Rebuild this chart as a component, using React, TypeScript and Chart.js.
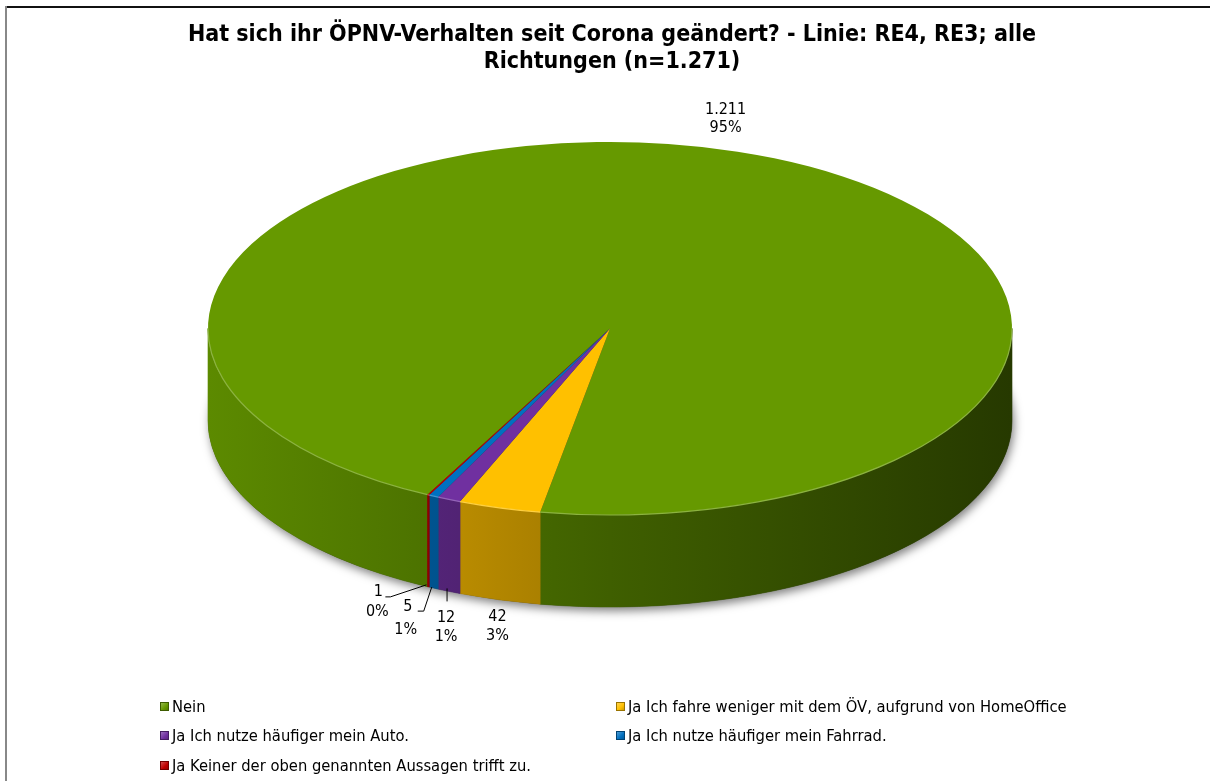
import React, { useEffect, useRef } from "react";
import { Chart, registerables } from "chart.js";

Chart.register(...registerables);

const categories = [
  "Nein",
  "Ja Ich fahre weniger mit dem ÖV, aufgrund von HomeOffice",
  "Ja Ich nutze häufiger mein Auto.",
  "Ja Ich nutze häufiger mein Fahrrad.",
  "Ja Keiner der oben genannten Aussagen trifft zu.",
];
const counts = [1211, 42, 12, 5, 1];
const countLabels = ["1.211", "42", "12", "5", "1"];
const percentLabels = ["95%", "3%", "1%", "1%", "0%"];
const sliceColors = ["#669900", "#FFC000", "#7030A0", "#0070C0", "#C00000"];
const titleLines = [
  "Hat sich ihr ÖPNV-Verhalten seit Corona geändert? - Linie: RE4, RE3; alle",
  "Richtungen (n=1.271)",
];

const FONT = '"DejaVu Sans Condensed", "Liberation Sans Narrow", "DejaVu Sans", sans-serif';

// 3D ellipse geometry (screen pixels)
const CX = 610;
const CY = 328.5;
const RX = 402;
const RY = 186.5;
const DEPTH = 92;
const ROTATION = 207;

type Pt = [number, number];
const labelLayout: { anchor: "top" | "bottom"; text: Pt[]; leader: Pt[] }[] = [
  { anchor: "top", text: [[-12, -42], [-12, -24]], leader: [] },
  { anchor: "bottom", text: [[-2, 17], [-2, 36]], leader: [] },
  { anchor: "bottom", text: [[-3, 26], [-3, 45]], leader: [[-2, -3], [-2, 10]] },
  { anchor: "bottom", text: [[-26, 19], [-28, 42]], leader: [[-2, -1], [-10, 23], [-16, 23]] },
  { anchor: "bottom", text: [[-50, 5], [-51, 25]], leader: [[-2, -2], [-38, 10], [-43, 10]] },
];

function rgb(hex: string): number[] {
  const h = hex.replace("#", "");
  return [0, 2, 4].map((i) => parseInt(h.slice(i, i + 2), 16));
}
function shade(hex: string, f: number): string {
  const c = rgb(hex).map((v) => Math.max(0, Math.min(255, Math.round(v * f))));
  return `rgb(${c[0]},${c[1]},${c[2]})`;
}
function lighten(hex: string, f: number): string {
  const c = rgb(hex).map((v) => Math.round(v + (255 - v) * f));
  return `rgb(${c[0]},${c[1]},${c[2]})`;
}

function frontPieces(a0: number, a1: number): Pt[] {
  const out: Pt[] = [];
  for (let k = -1; k <= 2; k++) {
    const lo = Math.max(a0, k * 2 * Math.PI);
    const hi = Math.min(a1, k * 2 * Math.PI + Math.PI);
    if (hi > lo) out.push([lo, hi]);
  }
  return out;
}

const pie3d = {
  id: "pie3d",
  beforeDatasetsDraw(chart: any) {
    const ctx: CanvasRenderingContext2D = chart.ctx;
    const arcs = chart.getDatasetMeta(0).data;
    if (!arcs.length) return;
    const p = arcs[0].getProps(["x", "y", "outerRadius"], true);

    // shadow under the pie
    ctx.save();
    ctx.shadowColor = "rgba(0,0,0,0.5)";
    ctx.shadowBlur = 10;
    ctx.shadowOffsetX = 2;
    ctx.shadowOffsetY = 4;
    ctx.fillStyle = "#333";
    ctx.beginPath();
    ctx.ellipse(CX, CY + DEPTH, RX, RY, 0, 0, Math.PI * 2);
    ctx.fill();
    ctx.restore();

    // side walls
    ctx.save();
    arcs.forEach((arc: any, i: number) => {
      const { startAngle, endAngle } = arc.getProps(["startAngle", "endAngle"], true);
      const col = sliceColors[i];
      const g = ctx.createLinearGradient(CX - RX, 0, CX + RX, 0);
      g.addColorStop(0, shade(col, 0.9));
      g.addColorStop(0.5, shade(col, 0.62));
      g.addColorStop(1, shade(col, 0.37));
      frontPieces(startAngle, endAngle).forEach(([t0, t1]) => {
        ctx.beginPath();
        ctx.ellipse(CX, CY, RX, RY, 0, t0, t1, false);
        ctx.ellipse(CX, CY + DEPTH, RX, RY, 0, t1, t0, true);
        ctx.closePath();
        ctx.fillStyle = g;
        ctx.fill();
        ctx.strokeStyle = g;
        ctx.lineWidth = 0.6;
        ctx.stroke();
      });
    });
    ctx.restore();

    // tilt the top surface
    ctx.save();
    ctx.translate(CX, CY);
    ctx.scale(RX / p.outerRadius, RY / p.outerRadius);
    ctx.translate(-p.x, -p.y);
  },
  afterDatasetsDraw(chart: any) {
    const ctx: CanvasRenderingContext2D = chart.ctx;
    ctx.restore();
    const arcs = chart.getDatasetMeta(0).data;
    if (!arcs.length) return;

    // rim highlight
    ctx.save();
    arcs.forEach((arc: any, i: number) => {
      const { startAngle, endAngle } = arc.getProps(["startAngle", "endAngle"], true);
      frontPieces(startAngle, endAngle).forEach(([t0, t1]) => {
        ctx.beginPath();
        ctx.ellipse(CX, CY, RX, RY, 0, t0, t1, false);
        ctx.strokeStyle = lighten(sliceColors[i], 0.25);
        ctx.lineWidth = 1.2;
        ctx.stroke();
      });
    });
    ctx.restore();

    // data labels
    ctx.save();
    ctx.font = `16px ${FONT}`;
    ctx.fillStyle = "#000";
    ctx.textAlign = "center";
    ctx.textBaseline = "middle";
    arcs.forEach((arc: any, i: number) => {
      const { startAngle, endAngle } = arc.getProps(["startAngle", "endAngle"], true);
      const m = (startAngle + endAngle) / 2;
      const L = labelLayout[i];
      const ax = CX + RX * Math.cos(m);
      const ay = (L.anchor === "top" ? CY : CY + DEPTH) + RY * Math.sin(m);
      if (L.leader.length) {
        ctx.beginPath();
        ctx.moveTo(ax + L.leader[0][0], ay + L.leader[0][1]);
        for (let k = 1; k < L.leader.length; k++) ctx.lineTo(ax + L.leader[k][0], ay + L.leader[k][1]);
        ctx.strokeStyle = "#000";
        ctx.lineWidth = 1;
        ctx.stroke();
      }
      ctx.fillText(countLabels[i], ax + L.text[0][0], ay + L.text[0][1]);
      ctx.fillText(percentLabels[i], ax + L.text[1][0], ay + L.text[1][1]);
    });
    ctx.restore();
  },
};

export default function App() {
  const ref = useRef<HTMLCanvasElement>(null);
  useEffect(() => {
    document.body.style.margin = "0";
    const chart = new Chart(ref.current as HTMLCanvasElement, {
      type: "pie",
      data: {
        labels: categories,
        datasets: [{ data: counts, backgroundColor: sliceColors, borderWidth: 0 }],
      },
      options: {
        responsive: false,
        animation: false,
        rotation: ROTATION,
        events: [],
        layout: { padding: { left: 14 } },
        plugins: {
          legend: { display: false },
          tooltip: { enabled: false },
          title: {
            display: true,
            text: titleLines,
            color: "#000",
            font: { family: FONT, size: 23, weight: "bold", lineHeight: 1.2 },
            padding: { top: 21, bottom: 10 },
          },
        },
      } as any,
      plugins: [pie3d as any],
    });
    return () => chart.destroy();
  }, []);

  return (
    <div style={{ position: "relative", width: 1210, height: 781, overflow: "hidden", background: "#fff" }}>
      <canvas ref={ref} width={1210} height={781} style={{ position: "absolute", left: 0, top: 0 }} />
      <div style={{ position: "absolute", left: 5, top: 6, width: 1205, height: 2, background: "#111" }} />
      <div style={{ position: "absolute", left: 5, top: 6, width: 2, height: 775, background: "#888" }} />
      {categories.map((c, i) => {
        const col = i % 2;
        const row = Math.floor(i / 2);
        const left = [160, 616][col];
        const top = 706 + row * 29.5;
        return (
          <div
            key={c}
            style={{
              position: "absolute",
              left,
              top: top - 11,
              height: 22,
              display: "flex",
              alignItems: "center",
              whiteSpace: "nowrap",
              fontFamily: FONT,
              fontSize: 16.4,
              color: "#000",
            }}
          >
            <span
              style={{
                display: "inline-block",
                width: 7,
                height: 7,
                marginRight: 3,
                border: `1px solid ${shade(sliceColors[i], 0.6)}`,
                background: `linear-gradient(135deg, ${lighten(sliceColors[i], 0.3)}, ${sliceColors[i]} 60%, ${shade(sliceColors[i], 0.8)})`,
              }}
            />
            {c}
          </div>
        );
      })}
    </div>
  );
}
